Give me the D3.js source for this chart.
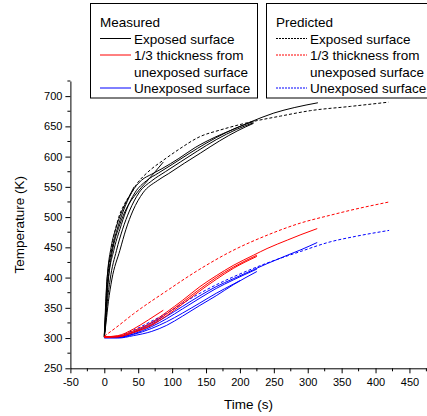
<!DOCTYPE html>
<html>
<head>
<meta charset="utf-8">
<script src="https://cdn.jsdelivr.net/npm/d3@7/dist/d3.min.js"></script>
<style>
  body { margin: 0; background: #fff; }
  svg { display: block; }
  text { font-family: "Liberation Sans", Arial, Helvetica, sans-serif; fill: #000; }
</style>
</head>
<body>
<svg id="chart" width="427" height="416"></svg>
<script>
// Axis ticks
const xTicks = [-50, 0, 50, 100, 150, 200, 250, 300, 350, 400, 450];
const yTicks = [250, 300, 350, 400, 450, 500, 550, 600, 650, 700];

// Measured, exposed surface: [time (s), temperature (K)]
const expMeasA = [[0,303],[1,325],[2.5,360],[4,396],[11,445],[19,480],[28,510],[40,540],[55,561],[70,571],[85,580],[110,597],[134,615],[163,632],[190,645],[215,657],[250,672],[280,681],[315,689]];
const expMeasB = [[0,302],[1.5,325],[3.5,360],[6,396],[14,445],[23,480],[32,510],[45,540],[62,560],[80,573],[100,587],[125,605],[150,622],[180,640],[200,650],[220,658]];
const expMeasC = [[0,302],[2,325],[4.5,360],[8.5,396],[18,445],[27,480],[37,510],[51,540],[70,560],[90,575],[112,591],[137,609],[165,628],[195,645],[220,656]];
const expMeasD = [[0,301],[2.5,325],[6,360],[11,396],[23,445],[32,480],[42,510],[57,540],[78,560],[95,572],[118,589],[142,606],[170,626],[197,643],[220,655]];
const expMeasShort1 = [[0,305],[1,330],[2.5,370],[5,410],[10,450],[18,485],[28,515],[37,535],[44,550]];
const expMeasShort2 = [[0,304],[1.5,330],[3.5,370],[7,410],[13,450],[22,485],[33,515],[48,540],[62,558],[75,575],[87,591]];

// Measured, 1/3 thickness from unexposed surface
const midMeasA = [[0,302],[20,303],[43,312],[70,326],[92,343],[115,362],[141,385],[165,403],[190,420],[220,437],[240,448],[270,462],[290,471],[314,481]];
const midMeasB = [[0,302],[20,302],[43,310],[70,323],[92,340],[115,359],[141,381],[165,400],[190,417],[225,437]];
const midMeasC = [[0,301],[20,302],[43,309],[70,321],[92,337],[115,356],[141,378],[165,397],[190,415],[225,435]];
const midMeasShort = [[0,302],[20,304],[43,315],[65,330],[87,346]];

// Measured, unexposed surface
const unexpMeasA = [[0,302],[20,302],[43,309],[70,322],[92,336],[115,352],[141,370],[165,385],[190,398],[220,413],[240,423],[270,437],[290,446],[314,458]];
const unexpMeasB = [[0,301],[20,301],[43,307],[70,319],[92,332],[115,348],[141,366],[165,382],[190,396],[225,414]];
const unexpMeasC = [[0,301],[20,301],[43,306],[70,316],[92,327],[115,341],[141,358],[165,374],[190,389],[200,395]];
const unexpMeasD = [[0,300],[20,300],[43,304],[70,311],[92,321],[115,336],[141,354],[165,370],[190,388],[225,410]];
const unexpMeasShort = [[0,301],[20,302],[43,310],[65,322],[87,336]];

// Predicted
const expPred = [[0,302],[1,315],[2.5,341],[5,396],[10.5,445],[20,495],[30,522],[40,540],[48,555],[60,570],[70,580],[87,594],[110,612],[141,633],[171,644],[215,657],[260,667],[304,676],[363,683],[419,690]];
const midPred = [[0,303],[18,318],[43,340],[92,378],[141,414],[190,445],[240,470],[289,490],[333,503],[362,511],[420,525]];
const unexpPred = [[0,301],[20,303],[43,313],[70,328],[92,341],[115,357],[141,374],[165,388],[190,401],[240,424],[289,443],[333,459],[370,468],[420,478]];

const RED = "#ff0000", BLUE = "#0000ff", BLACK = "#000000";

const series = [
  { pts: expMeasA, color: BLACK, dash: null },
  { pts: expMeasB, color: BLACK, dash: null },
  { pts: expMeasC, color: BLACK, dash: null },
  { pts: expMeasD, color: BLACK, dash: null },
  { pts: expMeasShort1, color: BLACK, dash: null },
  { pts: expMeasShort2, color: BLACK, dash: null },
  { pts: expPred, color: BLACK, dash: "3,2" },
  { pts: unexpMeasA, color: BLUE, dash: null },
  { pts: unexpMeasB, color: BLUE, dash: null },
  { pts: unexpMeasC, color: BLUE, dash: null },
  { pts: unexpMeasD, color: BLUE, dash: null },
  { pts: unexpMeasShort, color: BLUE, dash: null },
  { pts: unexpPred, color: BLUE, dash: "3,2" },
  { pts: midMeasA, color: RED, dash: null },
  { pts: midMeasB, color: RED, dash: null },
  { pts: midMeasC, color: RED, dash: null },
  { pts: midMeasShort, color: RED, dash: null },
  { pts: midPred, color: RED, dash: "3,2" }
];

const svg = d3.select("#chart");

const x = d3.scaleLinear().domain([-50, 475]).range([70.4, 426.4]);
const y = d3.scaleLinear().domain([250, 725]).range([368.3, 81]);

// Axes with minor ticks halfway between labelled ones
const xMinor = d3.range(-50, 476, 25).filter(v => v % 50 !== 0);
const yMinor = d3.range(250, 726, 25).filter(v => v % 50 !== 0);
const plain = d => String(d);

const xAxisG = svg.append("g").attr("transform", `translate(0,${y(250)})`);
xAxisG.call(d3.axisBottom(x).tickValues(xTicks).tickFormat(plain).tickSize(5).tickPadding(5).tickSizeOuter(0));
xAxisG.append("g").selectAll("line").data(xMinor).join("line")
  .attr("x1", d => x(d)).attr("x2", d => x(d)).attr("y1", 0).attr("y2", 3)
  .attr("stroke", "#000");

const yAxisG = svg.append("g").attr("transform", `translate(${x(-50)},0)`);
yAxisG.call(d3.axisLeft(y).tickValues(yTicks).tickFormat(plain).tickSize(5).tickPadding(3).tickSizeOuter(0));
yAxisG.append("g").selectAll("line").data(yMinor).join("line")
  .attr("y1", d => y(d)).attr("y2", d => y(d)).attr("x1", 0).attr("x2", -3)
  .attr("stroke", "#000");

svg.selectAll(".domain").attr("stroke", "#000").attr("stroke-width", 1);
svg.selectAll(".tick line").attr("stroke", "#000");
svg.selectAll(".tick text").attr("font-size", 11).attr("font-family", "Liberation Sans, Arial, sans-serif").attr("fill", "#000");

// Axis titles
svg.append("text")
  .attr("x", (x(-50) + x(475)) / 2).attr("y", 409)
  .attr("text-anchor", "middle").attr("font-size", 13.5)
  .text("Time (s)");

svg.append("text")
  .attr("transform", `translate(24,${(y(250) + y(725)) / 2}) rotate(-90)`)
  .attr("text-anchor", "middle").attr("font-size", 13.5)
  .text("Temperature (K)");

// Curves
const line = d3.line().x(d => x(d[0])).y(d => y(d[1])).curve(d3.curveMonotoneX);

svg.append("g").selectAll("path").data(series).join("path")
  .attr("d", d => line(d.pts))
  .attr("fill", "none")
  .attr("stroke", d => d.color)
  .attr("stroke-width", 1)
  .attr("stroke-dasharray", d => d.dash);

// Legends
function legend(x0, w, title, rows, dash) {
  const g = svg.append("g");
  g.append("rect").attr("x", x0 + 0.5).attr("y", 3.5).attr("width", w).attr("height", 94.5)
    .attr("fill", "#fff").attr("stroke", "#000").attr("stroke-width", 1);
  g.append("text").attr("x", x0 + 10).attr("y", 27).attr("font-size", 13.5).text(title);
  let row = 0;
  rows.forEach(r => {
    r.lines.forEach((txt, j) => {
      const yy = 43.5 + 16.5 * row;
      if (j === 0) {
        g.append("line").attr("x1", x0 + 10).attr("x2", x0 + 41)
          .attr("y1", yy - 5).attr("y2", yy - 5)
          .attr("stroke", r.color).attr("stroke-width", 1)
          .attr("stroke-dasharray", dash);
      }
      g.append("text").attr("x", x0 + 44).attr("y", yy).attr("font-size", 13.5).text(txt);
      row++;
    });
  });
}

const legendRows = [
  { color: BLACK, lines: ["Exposed surface"] },
  { color: RED, lines: ["1/3 thickness from", "unexposed surface"] },
  { color: BLUE, lines: ["Unexposed surface"] }
];

legend(90, 167, "Measured", legendRows, null);
legend(266, 170, "Predicted", legendRows, "2,1");
</script>
</body>
</html>
